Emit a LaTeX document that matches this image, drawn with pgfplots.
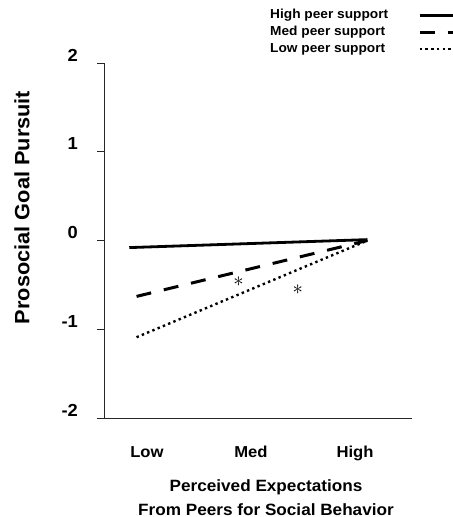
\documentclass[border=0pt]{standalone}
\usepackage{pgfplots}
\pgfplotsset{compat=1.18}
\usepackage{fontspec}
\setmainfont[FakeStretch=1.05]{Liberation Sans}
\begin{document}
\begin{tikzpicture}
\begin{axis}[
  scale only axis, width=308bp, height=355bp,
  xmin=-0.413, xmax=2.548, ymin=-2, ymax=2,
  axis lines=left,
  axis line style={-, line width=0.8bp, black!85},
  xtick={0,1,2}, xticklabels={Low,Med,High},
  x tick style={draw=none},
  ytick={-2,-1,0,1,2}, yticklabels={-2,-1,0,1,2},
  tick align=outside, major tick length=7bp,
  y tick style={line width=0.8bp, black!85},
  yticklabel style={font=\fontsize{17.5}{17.5}\selectfont\bfseries, inner sep=0pt, xshift=-19bp, yshift=8bp},
  xticklabel style={font=\fontsize{15.9}{15.9}\selectfont\bfseries, inner sep=0pt, anchor=north, yshift=-21bp},
  xlabel={Perceived Expectations\\From Peers for Social Behavior},
  xlabel style={font=\fontsize{16.4}{24}\selectfont\bfseries, align=center, inner sep=0pt, at={(axis description cs:0.526,-0.172)}, anchor=north},
  ylabel={Prosocial Goal Pursuit},
  ylabel style={font=\fontsize{20.8}{20.8}\selectfont\bfseries, inner sep=0pt, at={(axis description cs:-0.266,0.593)}, anchor=center, rotate=0},
  legend plot pos=right, legend cell align=left,
  legend style={at={(axis description cs:0.539,1.152)}, anchor=north west, draw=none, fill=none, inner sep=0pt,
    font=\fontsize{13.1}{13.1}\selectfont\bfseries, row sep=5bp,
    nodes={inner sep=0pt, text height=9.5bp, text depth=2.5bp}},
  legend image code/.code={\path (0bp,0bp); \draw[#1] (30bp,0bp) -- (80bp,0bp);},
  clip=false,
]
\addplot[black, line width=2.8bp] coordinates {(-0.17,-0.08) (2.12,0.01)};
\addlegendentry{High peer support}
\addplot[black, line width=3bp, dash pattern=on 15bp off 13bp] coordinates {(-0.10,-0.63) (2.12,0.0)};
\addlegendentry{Med peer support}
\addplot[black, line width=2.4bp, dash pattern=on 2.4bp off 3.3bp] coordinates {(-0.10,-1.09) (2.12,0.0)};
\addlegendentry{Low peer support}
\node[font=\fontsize{20}{20}\selectfont, inner sep=0pt] at (axis cs:0.88,-0.46) {$\ast$};
\node[font=\fontsize{20}{20}\selectfont, inner sep=0pt] at (axis cs:1.45,-0.55) {$\ast$};
\end{axis}
\pgfresetboundingbox
\path[use as bounding box] (current axis.south west) ++(-104bp,-99bp) rectangle ++(453bp,517bp);
\end{tikzpicture}
\end{document}
